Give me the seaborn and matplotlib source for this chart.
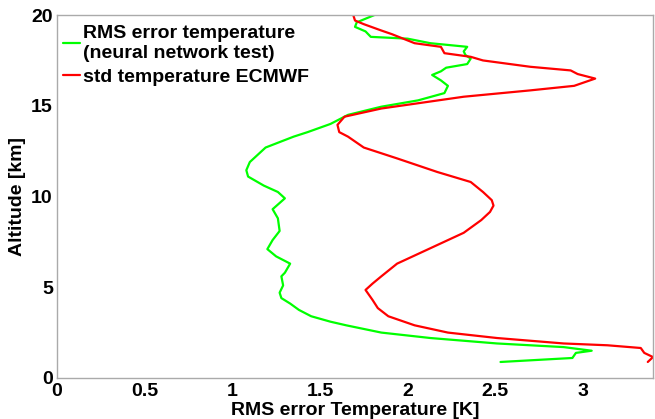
import numpy as np
import pandas as pd
import matplotlib
matplotlib.use("Agg")
import matplotlib.pyplot as plt
import seaborn as sns

# perfis (altitude em km, erro em K)
alt_nn = [0.88, 1.1, 1.38, 1.5, 1.7, 1.9, 2.2, 2.5, 2.9, 3.1, 3.4, 3.75, 4.1, 4.4, 4.7,
          5.1, 5.6, 5.8, 6.3, 6.7, 7.1, 7.6, 8.1, 8.8, 9.3, 9.9, 10.25, 10.6, 11.1, 11.45,
          11.9, 12.7, 13.0, 13.3, 13.55, 14.0, 14.5, 14.95, 15.3, 15.7, 16.1, 16.4, 16.7,
          16.9, 17.1, 17.3, 17.6, 17.8, 18.0, 18.25, 18.45, 18.7, 18.8, 19.1, 19.35, 19.6,
          19.8, 20.0]
rms_nn = [2.53, 2.94, 2.96, 3.05, 2.89, 2.51, 2.13, 1.85, 1.65, 1.56, 1.45, 1.38, 1.33, 1.28, 1.27,
          1.29, 1.28, 1.30, 1.33, 1.25, 1.20, 1.23, 1.27, 1.26, 1.23, 1.30, 1.26, 1.18, 1.09, 1.08,
          1.10, 1.19, 1.27, 1.35, 1.43, 1.56, 1.66, 1.85, 2.06, 2.21, 2.23, 2.19, 2.14,
          2.19, 2.22, 2.34, 2.36, 2.33, 2.32, 2.34, 2.13, 2.00, 1.79, 1.76, 1.70, 1.71,
          1.76, 1.81]

alt_ec = [0.88, 1.15, 1.38, 1.65, 1.8, 1.9, 2.2, 2.5, 2.9, 3.4, 3.85, 4.3, 4.85, 5.2, 5.6,
          6.3, 7.15, 8.0, 8.7, 9.15, 9.5, 9.8, 10.25, 10.8, 11.35, 12.1, 12.7, 13.3, 13.55,
          13.95, 14.4, 14.85, 15.5, 15.85, 16.1, 16.5, 16.75, 16.95, 17.15, 17.5, 17.7, 17.9,
          18.25, 18.45, 18.95, 19.15, 19.5, 19.7, 20.0]
std_ec = [3.37, 3.40, 3.35, 3.33, 3.14, 2.89, 2.51, 2.23, 2.04, 1.89, 1.83, 1.80, 1.76, 1.80, 1.85,
          1.94, 2.13, 2.32, 2.42, 2.47, 2.49, 2.48, 2.43, 2.36, 2.17, 1.94, 1.75, 1.66, 1.61,
          1.60, 1.64, 1.85, 2.32, 2.70, 2.95, 3.07, 2.97, 2.93, 2.70, 2.43, 2.36, 2.21,
          2.19, 2.04, 1.91, 1.85, 1.75, 1.70, 1.69]

lab_nn = "RMS error temperature\n(neural network test)"
lab_ec = "std temperature ECMWF"

df = pd.concat([
    pd.DataFrame({"Temp": rms_nn, "Alt": alt_nn, "serie": lab_nn}),
    pd.DataFrame({"Temp": std_ec, "Alt": alt_ec, "serie": lab_ec}),
], ignore_index=True)

sns.set_style("white")
plt.rcParams['font.family'] = ['Liberation Sans', 'DejaVu Sans']
plt.rcParams['font.weight'] = 'bold'
plt.rcParams['text.color'] = 'black'
plt.rcParams['axes.labelcolor'] = 'black'
plt.rcParams['xtick.labelcolor'] = 'black'
plt.rcParams['ytick.labelcolor'] = 'black'

fig = plt.figure(figsize=(6.55, 4.19), dpi=100)
ax = fig.add_axes([0.087, 0.098, 0.91, 0.866])

sns.lineplot(data=df, x="Temp", y="Alt", hue="serie", sort=False, estimator=None,
             palette={lab_nn: "#00ff00", lab_ec: "#ff0000"}, linewidth=1.6, ax=ax)

ax.set_xlim(0, 3.4)
ax.set_ylim(0, 20)
ax.set_xticks([0, 0.5, 1, 1.5, 2, 2.5, 3])
ax.set_xticklabels(["0", "0.5", "1", "1.5", "2", "2.5", "3"])
ax.set_yticks([0, 5, 10, 15, 20])
ax.tick_params(direction="in", length=4, color="#999999", labelsize=14)
ax.tick_params(axis="x", pad=4)
ax.tick_params(axis="y", pad=3)
for s in ax.spines.values():
    s.set_color("#aaaaaa")
    s.set_linewidth(1)

ax.set_xlabel("RMS error Temperature [K]", fontsize=14, fontweight="bold", labelpad=1)
ax.set_ylabel("Altitude [km]", fontsize=14, fontweight="bold", labelpad=4)

leg = ax.legend(loc="upper left", bbox_to_anchor=(0, 0.99), frameon=False, fontsize=14,
                handlelength=0.9, handletextpad=0.15, borderaxespad=0.1, borderpad=0.2,
                labelspacing=0.3)
leg.set_title(None)
for t in leg.get_texts():
    t.set_linespacing(1.3)

fig.savefig("out.png", dpi=100)
